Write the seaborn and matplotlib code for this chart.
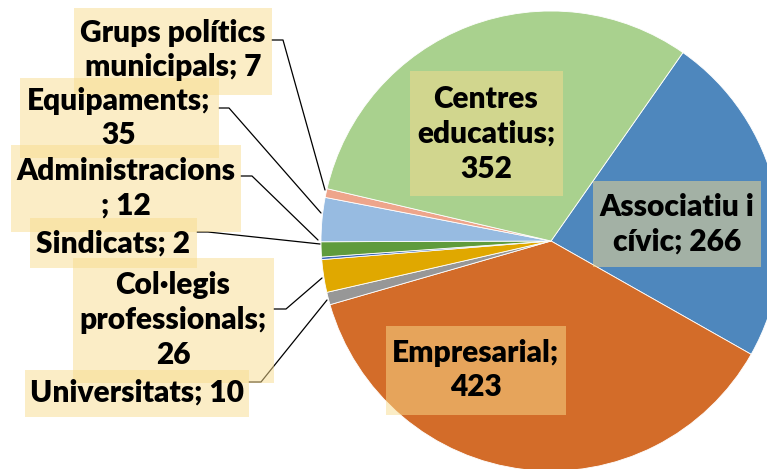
import matplotlib
matplotlib.use("Agg")
import matplotlib.pyplot as plt
import seaborn as sns

categories = ["Associatiu i cívic", "Empresarial", "Universitats", "Col·legis professionals",
              "Sindicats", "Administracions", "Equipaments", "Grups polítics municipals",
              "Centres educatius"]
values = [266, 423, 10, 26, 2, 12, 35, 7, 352]
label_texts = ["Associatiu i\ncívic; 266", "Empresarial;\n423", "Universitats; 10",
               "Col·legis\nprofessionals;\n26", "Sindicats; 2", "Administracions\n; 12",
               "Equipaments;\n35", "Grups polítics\nmunicipals; 7", "Centres\neducatius;\n352"]
colors = ["#4E87BD", "#D36C29", "#979797", "#E0A800", "#3A66B8", "#5F9B3C",
          "#97BBE1", "#EEA58B", "#A9D18E"]

sns.set_theme(style="white")
plt.rcParams['font.family'] = ['Lato', 'DejaVu Sans']

W, H = 767, 469
fig = plt.figure(figsize=(W / 100, H / 100), dpi=100)
ax = fig.add_axes([0, 0, 1, 1])

cx, cy, r = 551, 241, 230
# y axis is inverted below (pixel coordinates), so the angles are mirrored
ax.pie(values, colors=colors, startangle=-55, counterclock=True,
       radius=r, center=(cx, cy),
       wedgeprops=dict(edgecolor="white", linewidth=0.6))
ax.set_xlim(0, W)
ax.set_ylim(H, 0)
ax.set_aspect('equal')
ax.axis('off')

label_pos = [(677, 224), (476, 370), (137, 393), (173, 320), (113, 244),
             (126, 188), (119, 118), (173, 50), (486, 134)]
box_ext = [(593, 761, 181, 267), (386, 566, 326, 415), (25, 249, 370, 417),
           (73, 274, 258, 383), (30, 197, 218, 268), (11, 241, 145, 232),
           (20, 219, 78, 158), (74, 272, 8, 95), (410, 563, 71, 196)]
leaders = {2: [(249, 382), (261, 382), (327, 300)],
           3: [(274, 309), (286, 309), (322, 278)],
           4: [(197, 232), (208, 232), (320, 244)],
           5: [(241, 176), (252, 176), (318, 240)],
           6: [(219, 108), (229, 108), (321, 213)],
           7: [(272, 40), (283, 40), (325, 190)]}

for i, pts in leaders.items():
    ax.plot([p[0] for p in pts], [p[1] for p in pts], color="black", lw=0.9, zorder=3)

for i, (txt, (x, y)) in enumerate(zip(label_texts, label_pos)):
    x0, x1, y0, y1 = box_ext[i]
    ax.add_patch(plt.Rectangle((x0, y0), x1 - x0, y1 - y0, facecolor="#F9DC8E",
                               alpha=0.5, edgecolor="none", zorder=4))
    ax.text(x, y, txt, ha="center", va="center", fontsize=21.5, fontweight="heavy",
            color="black", linespacing=1.3, zorder=5)

fig.savefig("out.png", dpi=100)
